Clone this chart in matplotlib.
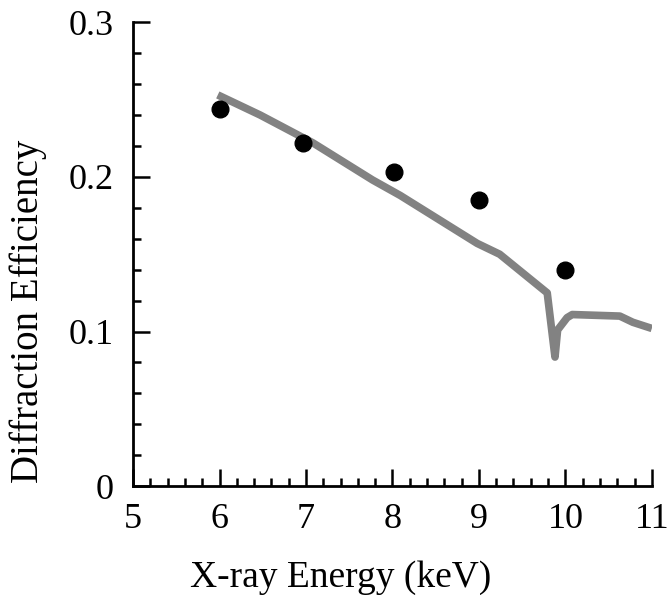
import matplotlib
matplotlib.use("Agg")
import matplotlib.pyplot as plt
from matplotlib.ticker import MultipleLocator

# measured diffraction efficiency
meas_energy = [6.0, 6.97, 8.02, 9.0, 10.0]
meas_eff = [0.244, 0.222, 0.203, 0.185, 0.140]

# calculated curve (absorption edge near 9.9 keV)
calc_energy = [5.98, 6.47, 7.08, 7.77, 8.09, 8.98, 9.24, 9.79, 9.88,
               9.91, 10.02, 10.08, 10.63, 10.78, 11.0]
calc_eff = [0.253, 0.240, 0.222, 0.198, 0.188, 0.157, 0.150, 0.125, 0.0835,
            0.101, 0.109, 0.111, 0.110, 0.106, 0.102]

y_ticks = [0, 0.1, 0.2, 0.3]
y_ticklabels = ["0", "0.1", "0.2", "0.3"]

plt.rcParams["font.family"] = ["Liberation Serif", "DejaVu Serif"]

fig = plt.figure(figsize=(6.72, 6.01), dpi=100)
ax = fig.add_axes([0.198, 0.191, 0.772, 0.772])

ax.plot(calc_energy, calc_eff, color="#828282", lw=5.5, solid_capstyle="butt",
        solid_joinstyle="round", zorder=2)
ax.plot(meas_energy, meas_eff, "o", color="black", markersize=12, zorder=3)

ax.set_xlim(5, 11)
ax.set_ylim(0, 0.3)
ax.xaxis.set_major_locator(MultipleLocator(1))
ax.xaxis.set_minor_locator(MultipleLocator(0.2))
ax.set_yticks(y_ticks)
ax.set_yticklabels(y_ticklabels)
ax.yaxis.set_minor_locator(MultipleLocator(0.02))

for side in ["top", "right"]:
    ax.spines[side].set_visible(False)
for side in ["left", "bottom"]:
    ax.spines[side].set_linewidth(2)

ax.tick_params(which="both", direction="in", width=1.8, labelsize=26)
ax.tick_params(which="major", length=12)
ax.tick_params(which="minor", length=6)
ax.tick_params(axis="x", pad=12)
ax.tick_params(axis="y", pad=14)

ax.set_xlabel("X-ray Energy (keV)", fontsize=27)
ax.set_ylabel("Diffraction Efficiency", fontsize=28)
ax.xaxis.set_label_coords(0.40, -0.16)
ax.yaxis.set_label_coords(-0.165, 0.376)

fig.savefig("out.png", dpi=100)
